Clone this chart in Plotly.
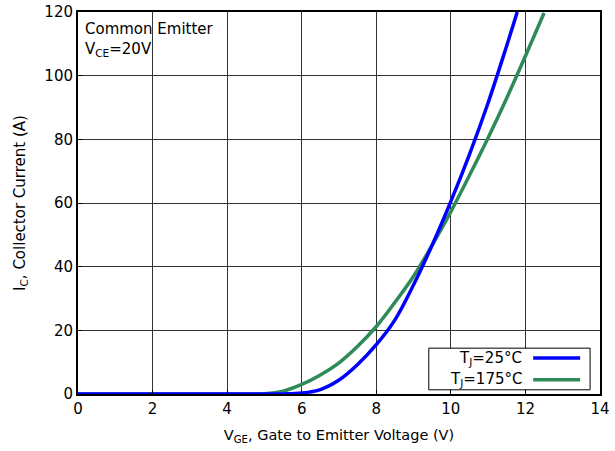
import plotly.graph_objects as go

# Data
vge_25 = [0, 4.0, 5.0, 5.5, 6.0, 6.5, 7.0, 7.5, 8.0, 8.5, 9.0, 9.5, 10.0, 10.5, 11.0, 11.5, 11.78]
ic_25 = [0, 0, 0, 0.02, 0.3, 1.4, 4.4, 9.3, 15.5, 23.3, 34.3, 46.8, 60.5, 75.3, 91.5, 109.5, 120]

vge_175 = [0, 4.0, 4.5, 5.0, 5.5, 6.0, 6.5, 7.0, 7.5, 8.0, 8.5, 9.0, 9.5, 10.0, 10.5, 11.0, 11.5, 12.0, 12.5]
ic_175 = [0, 0, 0.01, 0.1, 0.9, 3.0, 6.0, 9.8, 15.0, 21.2, 28.8, 37.0, 46.8, 57.3, 68.7, 80.5, 93.0, 106.2, 119.7]

x_ticks = [0, 2, 4, 6, 8, 10, 12, 14]
y_ticks = [0, 20, 40, 60, 80, 100, 120]

series_names = ["T<sub>J</sub>=25°C", "T<sub>J</sub>=175°C"]
series_colors = ["#0000FF", "#2E8B57"]

FONT = "DejaVu Sans, Liberation Sans, Arial, sans-serif"
FS = 15

fig = go.Figure()
fig.add_trace(go.Scatter(x=vge_175, y=ic_175, mode="lines", name=series_names[1],
                         line=dict(color=series_colors[1], width=3.5, shape="spline", smoothing=1.0),
                         showlegend=False, hoverinfo="skip"))
fig.add_trace(go.Scatter(x=vge_25, y=ic_25, mode="lines", name=series_names[0],
                         line=dict(color=series_colors[0], width=3.5, shape="spline", smoothing=1.0),
                         showlegend=False, hoverinfo="skip"))

axis_common = dict(showgrid=True, gridcolor="#333333", gridwidth=1,
                   showline=True, linecolor="black", linewidth=2, mirror=True,
                   ticks="inside", ticklen=4, tickcolor="black",
                   zeroline=False, tickfont=dict(size=FS, color="black", family=FONT))

fig.update_xaxes(range=[0, 14], tickvals=x_ticks, **axis_common,
                 title=dict(text="V<sub>GE</sub>, Gate to Emitter Voltage (V)",
                            font=dict(size=14.5, color="black", family=FONT), standoff=13))
fig.update_yaxes(range=[0, 120], tickvals=y_ticks, **axis_common,
                 title=dict(text="I<sub>C</sub>, Collector Current (A)",
                            font=dict(size=FS, color="black", family=FONT), standoff=15))

# Top-left annotation
fig.add_annotation(x=0.01, y=0.985, xref="paper", yref="paper", xanchor="left", yanchor="top",
                   text="Common Emitter<br>V<sub>CE</sub>=20V", showarrow=False, align="left",
                   font=dict(size=FS, color="black", family=FONT))

# Manual legend (text left of line sample, as in reference)
fig.add_shape(type="rect", xref="paper", yref="paper", x0=0.672, x1=0.981, y0=0.011, y1=0.12,
              line=dict(color="black", width=1), fillcolor="white", layer="above")
leg_y = [0.094, 0.037]
for name, color, yy in zip(series_names, series_colors, leg_y):
    fig.add_annotation(x=0.855, y=yy, xref="paper", yref="paper", xanchor="right", yanchor="middle",
                       text=name, showarrow=False, font=dict(size=FS, color="black", family=FONT))
    fig.add_shape(type="line", xref="paper", yref="paper", x0=0.872, x1=0.962, y0=yy, y1=yy,
                  line=dict(color=color, width=3.5), layer="above")

fig.update_layout(width=615, height=451, margin=dict(l=78, r=15, t=12, b=57, autoexpand=False),
                  plot_bgcolor="white", paper_bgcolor="white",
                  font=dict(family=FONT, color="black"))

fig.write_html("out.html", config={"displayModeBar": False},
               post_script="document.body.style.margin='0px';document.body.style.overflow='hidden';")
